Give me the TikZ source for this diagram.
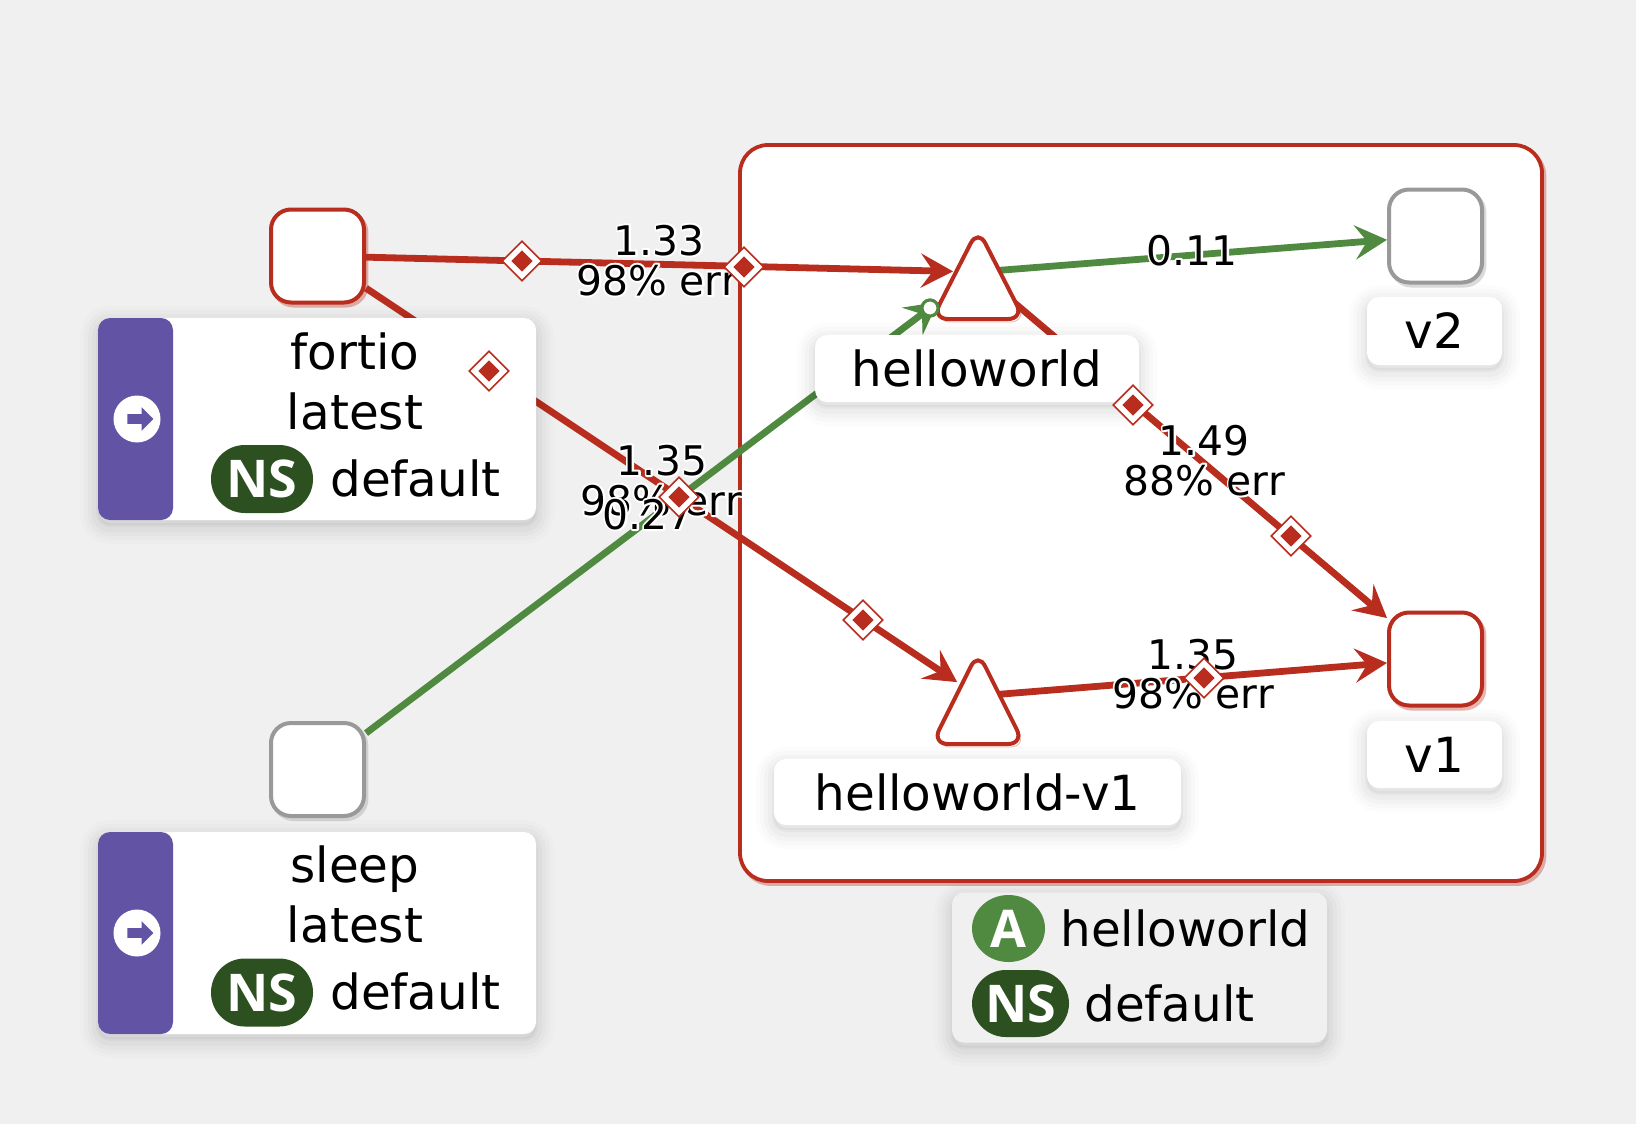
\documentclass[tikz,border=0pt]{standalone}
\usepackage{fontspec}
\setmainfont{DejaVu Sans}
\newfontfamily\badgefont{Open Sans}
\usepackage{tikz}
\usetikzlibrary{arrows.meta,shapes.geometric,shapes.arrows}
\definecolor{pagegrey}{HTML}{F0F0F0}
\definecolor{errred}{HTML}{B92D1E}
\definecolor{okgreen}{HTML}{4F8A40}
\definecolor{nsgreen}{HTML}{2D5020}
\definecolor{wlpurple}{HTML}{6253A5}
\definecolor{idlegrey}{HTML}{999999}
% white rim round the edge rates
\newcommand{\flowtxt}[1]{\leavevmode\rlap{\special{pdf:code q 1 Tr 2 w 1 1 1 RG 1 J 1 j}#1\special{pdf:code Q}}#1}

\begin{document}
\begin{tikzpicture}[
  x=0.5pt,y=-0.5pt,
  softlift/.style={
    preaction={draw=black,opacity=.012,line width=18pt,transform canvas={yshift=-3pt}},
    preaction={draw=black,opacity=.016,line width=14pt,transform canvas={yshift=-3pt}},
    preaction={draw=black,opacity=.02,line width=10pt,transform canvas={yshift=-3pt}},
    preaction={draw=black,opacity=.025,line width=6pt,transform canvas={yshift=-3pt}},
    preaction={draw=black,fill=black,opacity=.03,line width=2pt,transform canvas={yshift=-2.5pt}}},
  tintlift/.style={preaction={draw=#1,opacity=.35,transform canvas={xshift=1.2pt,yshift=-1.5pt}}},
  wlbox/.style={rounded corners=10pt,draw=#1,fill=white,line width=2pt,minimum size=46.5pt,
                inner sep=0pt,tintlift=#1},
  hub/.style={circle,minimum size=25pt,inner sep=0pt,outer sep=0pt},
  svctri/.style={rounded corners=8pt,draw=errred,fill=white,line width=2pt,tintlift=errred},
  namebox/.style={rounded corners=6pt,fill=white,inner sep=0pt,softlift,
                  font=\fontsize{24.2}{26}\selectfont},
  tagbox/.style={rounded corners=6pt,fill=white,inner sep=0pt,softlift,
                 minimum width=219pt,minimum height=101pt,
                 path picture={\fill[wlpurple] (path picture bounding box.south west)
                   rectangle ([xshift=37.5pt]path picture bounding box.north west);}},
  appbox/.style={rounded corners=6pt,fill=pagegrey,inner sep=0pt,softlift,
                 minimum width=187.5pt,minimum height=75pt},
  groupbox/.style={rounded corners=14pt,draw=errred,fill=white,line width=1.9pt,tintlift=errred,
                   minimum width=401pt,minimum height=368pt,inner sep=0pt},
  nametxt/.style={font=\fontsize{24.2}{26}\selectfont,inner sep=0pt,anchor=base},
  nstxt/.style={font=\fontsize{24.2}{26}\selectfont,inner sep=0pt,anchor=base west},
  nspill/.style={rounded corners=16.9pt,fill=nsgreen,text=white,inner sep=0pt,minimum width=51pt,
                 minimum height=34pt,font=\badgefont\bfseries\fontsize{26}{28}\selectfont},
  appdot/.style={ellipse,fill=okgreen,text=white,inner sep=0pt,minimum width=36.5pt,
                 minimum height=33.5pt,font=\badgefont\bfseries\fontsize{26}{28}\selectfont},
  badge/.style={circle,fill=white,minimum size=23.5pt,inner sep=0pt},
  badgearrow/.style={single arrow,fill=wlpurple,inner xsep=0pt,inner ysep=2.25pt,
                     minimum height=13pt,single arrow head extend=3.5pt},
  ratetxt/.style={font=\fontsize{20.4}{22}\selectfont,inner sep=0pt,anchor=base},
  errmark/.style={diamond,aspect=1,draw=errred,fill=white,line width=.8pt,inner sep=0pt,
                  minimum size=20pt,
                  path picture={\node[diamond,aspect=1,fill=errred,inner sep=0pt,minimum size=11pt]
                    at (path picture bounding box.center) {};}},
  ringmark/.style={circle,draw=okgreen,fill=white,line width=1.5pt,minimum size=8pt,inner sep=0pt},
  errarr/.style={-{Stealth[length=16pt,width=17pt,inset=6pt]},line width=3.4pt,draw=errred},
  okarr/.style={-{Stealth[length=16pt,width=17pt,inset=6pt]},line width=3.4pt,draw=okgreen}
]
\useasboundingbox (0,0) rectangle (1636,1124);
\fill[pagegrey] (0,0) rectangle (1636,1124);

\node[groupbox] (appgroup) at (1141,513) {};

\node[wlbox=errred]   (fortio) at (317.5,256) {};
\node[wlbox=idlegrey] (sleep)  at (317.5,769.5) {};
\node[wlbox=idlegrey] (v2)     at (1435.5,236) {};
\node[wlbox=errred]   (v1)     at (1435.5,659) {};
\node[hub] (hello)   at (978,272) {};
\node[hub] (hellov1) at (978,696) {};
\node[ringmark] (helloring) at (930,308) {};

% edges first, so that the boxes cover them
\draw[errarr] (fortio) -- (hello);
\draw[errarr] (fortio) -- (hellov1);
\draw[okarr,shorten >=-5pt] (sleep) -- (helloring.center);
\draw[okarr] (hello.center) -- (v2);
\draw[errarr] (hello.center) -- (v1);
\draw[errarr] (hellov1.center) -- (v1);

\draw[svctri] (978,229) -- (1024,319) -- (932,319) -- cycle;
\draw[svctri] (978,652) -- (1024,744) -- (932,744) -- cycle;
\node[ringmark] (helloringtop) at (helloring) {};

\node[namebox,minimum width=162pt,minimum height=33.5pt]   (hellolabel)   at (977,368.5) {helloworld};
\node[namebox,minimum width=203.5pt,minimum height=33pt]   (hellov1label) at (977.5,792) {helloworld-v1};
\node[namebox,minimum width=67.5pt,minimum height=34pt]    (v2label)      at (1434.5,331) {v2};
\node[namebox,minimum width=67.5pt,minimum height=33.5pt]  (v1label)      at (1434.5,754.5) {v1};

% fortio tag
\node[tagbox] (fortiotag) at (317,419) {};
\node[badge] (fortiobadge) at (137,419) {};
\node[badgearrow] (fortioarrow) at (138,419) {};
\node[nametxt] (fortioname) at (355,369) {fortio};
\node[nametxt] (fortiover)  at (355,429) {latest};
\node[nspill] (fortions) at (262,479) {NS};
\node[nstxt] (fortiospace) at (330,496) {default};
\node[errmark] (fortioerr) at (489,371) {};

% sleep tag
\node[tagbox] (sleeptag) at (317,933) {};
\node[badge] (sleepbadge) at (137,933) {};
\node[badgearrow] (sleeparrow) at (138,933) {};
\node[nametxt] (sleepname) at (355,882.5) {sleep};
\node[nametxt] (sleepver)  at (355,942.5) {latest};
\node[nspill] (sleepns) at (262,992.5) {NS};
\node[nstxt] (sleepspace) at (330,1009.5) {default};

% app tag
\node[appbox] (apptag) at (1139.5,967.5) {};
\node[appdot] (appa) at (1008.5,928.5) {A};
\node[nstxt] (appname) at (1060,946) {helloworld};
\node[nspill,minimum width=48.5pt,minimum height=33.5pt] (appns) at (1020.5,1003.5) {NS};
\node[nstxt] (appspace) at (1084,1021) {default};

% rates on the edges
\node[ratetxt] (rate133) at (659,255) {\flowtxt{1.33}};
\node[ratetxt] (err133)  at (657,295) {\flowtxt{98\% err}};
\node[ratetxt] (rate135) at (662,475) {\flowtxt{1.35}};
\node[ratetxt] (err135)  at (661,515) {\flowtxt{98\% err}};
\node[ratetxt] (rate027) at (648,529) {\flowtxt{0.27}};
\node[ratetxt] (rate011) at (1192,265) {\flowtxt{0.11}};
\node[ratetxt] (rate149) at (1204,455) {\flowtxt{1.49}};
\node[ratetxt] (err149)  at (1204,495) {\flowtxt{88\% err}};
\node[ratetxt] (rate135b) at (1193,669) {\flowtxt{1.35}};
\node[ratetxt] (err135b)  at (1193,708) {\flowtxt{98\% err}};

\node[errmark] (erra) at (522,261) {};
\node[errmark] (errb) at (744,267) {};
\node[errmark] (errc) at (679,497) {};
\node[errmark] (errd) at (863,620) {};
\node[errmark] (erre) at (1133,405) {};
\node[errmark] (errf) at (1291,536) {};
\node[errmark] (errg) at (1204,678) {};
\end{tikzpicture}
\end{document}
